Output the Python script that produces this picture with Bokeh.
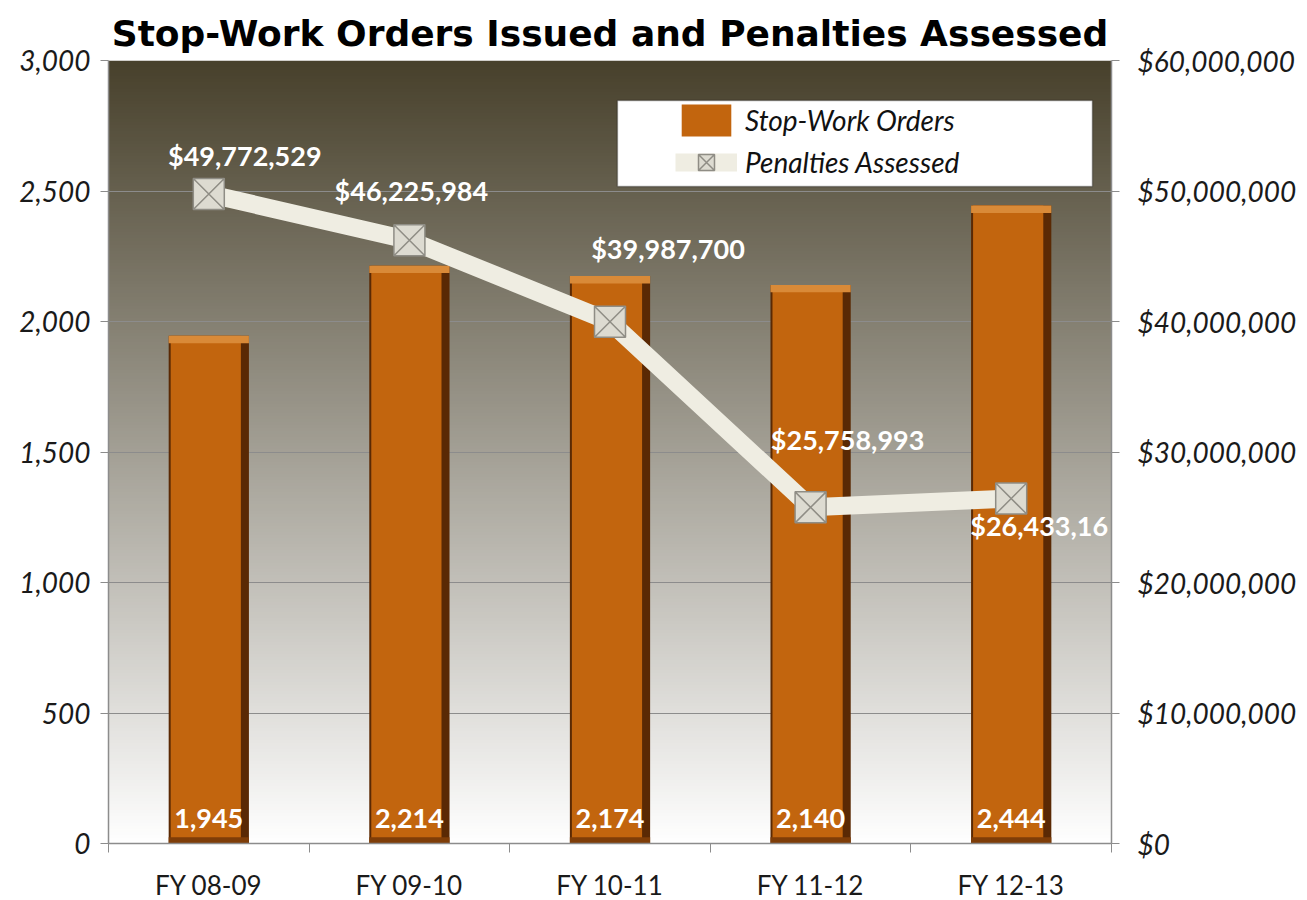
import numpy as np
from bokeh.plotting import figure
from bokeh.models import (Range1d, LinearAxis, FixedTicker, NumeralTickFormatter,
                          ColumnDataSource, Legend, LegendItem, BoxAnnotation)
from bokeh.transform import dodge
from bokeh.core.properties import value
from bokeh.embed import file_html
from bokeh.resources import INLINE

# ---------------- data ----------------
categories = ["FY 08-09", "FY 09-10", "FY 10-11", "FY 11-12", "FY 12-13"]
stop_work_orders = [1945, 2214, 2174, 2140, 2444]
penalties = [49772529, 46225984, 39987700, 25758993, 26433160]
order_labels = ["1,945", "2,214", "2,174", "2,140", "2,444"]
penalty_labels = ["$49,772,529", "$46,225,984", "$39,987,700", "$25,758,993", "$26,433,16"]
left_ticks = [0, 500, 1000, 1500, 2000, 2500, 3000]
right_ticks = [0, 10000000, 20000000, 30000000, 40000000, 50000000, 60000000]
title_text = "Stop-Work Orders Issued and Penalties Assessed"

# label placement (style, screen px)
pen_label_dx = [36, 2, 58, 37, 28]
pen_label_dy = [-38, -50, -73, -68, 27]

ncat = len(categories)
centers = [i + 0.5 for i in range(ncat)]   # category slot centres
bounds = list(range(ncat + 1))              # category slot boundaries

src = ColumnDataSource(dict(
    x=centers,
    cat=categories,
    orders=stop_work_orders,
    cap_bottom=[v - 28 for v in stop_work_orders],
    base_top=[24] * ncat,
    olabel=order_labels,
    pen=penalties,
    plabel=penalty_labels,
    dx=pen_label_dx,
    dy=pen_label_dy,
))

p = figure(x_range=Range1d(0, ncat), y_range=Range1d(left_ticks[0], left_ticks[-1]),
           frame_width=1003, frame_height=783,
           min_border_left=108, min_border_right=190, min_border_top=60, min_border_bottom=52,
           output_backend="svg", toolbar_location=None,
           background_fill_color="white", border_fill_color="white", outline_line_color=None)

p.extra_y_ranges = {"pen": Range1d(right_ticks[0], right_ticks[-1])}

# title
p.title.text = title_text
p.title.align = "center"
p.title.text_font = "DejaVu Sans"
p.title.text_font_style = "bold"
p.title.text_font_size = "36px"
p.title.text_color = "black"
p.title.standoff = 14

# gradient background of plot area
n = 256
frac = np.linspace(0, 1, n)[:, None]
top_c = np.array([72, 65, 44], dtype=float)
bot_c = np.array([255, 255, 255], dtype=float)
img = np.empty((n, 1), dtype=np.uint32)
view = img.view(dtype=np.uint8).reshape((n, 1, 4))
for k in range(3):
    view[:, :, k] = (bot_c[k] + (top_c[k] - bot_c[k]) * frac).astype(np.uint8)
view[:, :, 3] = 255
p.image_rgba(image=[img], x=0, y=left_ticks[0], dw=ncat, dh=left_ticks[-1], level="image")

# grid
p.xgrid.visible = False
p.ygrid.grid_line_color = "#8c8c8c"
p.ygrid.grid_line_width = 1.2

# left axis
ya = p.yaxis[0]
ya.ticker = FixedTicker(ticks=left_ticks)
ya.formatter = NumeralTickFormatter(format="0,0")
ya.major_label_text_font = "Lato"
ya.major_label_text_font_style = "italic"
ya.major_label_text_font_size = "28px"
ya.major_label_text_color = "#1a1a1a"
ya.major_tick_in = 0
ya.major_tick_out = 8
ya.minor_tick_line_color = None
ya.axis_line_color = "#8c8c8c"
ya.major_tick_line_color = "#8c8c8c"
ya.major_label_standoff = 10
ya.axis_line_width = 1.5

# right axis
ra = LinearAxis(y_range_name="pen", ticker=FixedTicker(ticks=right_ticks),
                formatter=NumeralTickFormatter(format="$0,0"))
ra.major_label_text_font = "Lato"
ra.major_label_text_font_style = "italic"
ra.major_label_text_font_size = "28px"
ra.major_label_text_color = "#1a1a1a"
ra.major_tick_in = 0
ra.major_tick_out = 8
ra.minor_tick_line_color = None
ra.axis_line_color = "#8c8c8c"
ra.major_tick_line_color = "#8c8c8c"
ra.major_label_standoff = 18
ra.axis_line_width = 1.5
p.add_layout(ra, "right")

# bottom axis: labels at centres, ticks at boundaries
xa = p.xaxis[0]
xa.ticker = FixedTicker(ticks=centers, minor_ticks=bounds)
xa.major_label_overrides = {c: lab for c, lab in zip(centers, categories)}
xa.major_tick_in = 0
xa.major_tick_out = 0
xa.minor_tick_in = 0
xa.minor_tick_out = 9
xa.minor_tick_line_color = "#8c8c8c"
xa.axis_line_color = "#8c8c8c"
xa.axis_line_width = 1.5
xa.major_label_text_font = "Lato"
xa.major_label_text_font_size = "26px"
xa.major_label_text_color = "#1a1a1a"
xa.major_label_standoff = 16

# bars (bevelled look)
p.vbar(x="x", top="orders", width=0.4, source=src, fill_color="#5a2904", line_color=None)
bar_main = p.vbar(x=dodge("x", -0.015), top="orders", width=0.35, source=src,
                  fill_color="#c2650e", line_color=None)
p.vbar(x="x", top="orders", bottom="cap_bottom", width=0.4, source=src,
       fill_color="#d98a38", line_color=None)
p.vbar(x="x", top="base_top", bottom=0, width=0.4, source=src,
       fill_color="#7e3d08", line_color=None)

# penalties line
pen_line = p.line(x="x", y="pen", y_range_name="pen", source=src,
                  line_width=18, line_color="#efede2")
pen_pts = p.scatter(x="x", y="pen", y_range_name="pen", source=src, marker="square_x",
                    size=31, fill_color="#dddbd1", line_color="#8f8d85", line_width=1.5)

# data labels
p.text(x="x", y=0, text="olabel", source=src, y_offset=-25,
       text_font=value("Lato"), text_font_style="bold", text_font_size="27px",
       text_color="white", text_align="center", text_baseline="middle")
p.text(x="x", y="pen", y_range_name="pen", text="plabel", source=src,
       x_offset="dx", y_offset="dy",
       text_font=value("Lato"), text_font_style="bold", text_font_size="27px",
       text_color="white", text_align="center", text_baseline="middle")

# legend box + legend
box = BoxAnnotation(left=2.537, right=4.905, bottom=2517, top=2847,
                    fill_color="white", fill_alpha=1.0, line_color="black", line_width=1.5)
p.add_layout(box)
legend = Legend(items=[LegendItem(label="Stop-Work Orders", renderers=[bar_main]),
                       LegendItem(label="Penalties Assessed", renderers=[pen_line, pen_pts])],
                location=(567, 661), padding=0, spacing=2, margin=0,
                glyph_width=62, glyph_height=40, label_height=40, label_standoff=8,
                background_fill_alpha=0, border_line_color=None,
                label_text_font="Lato", label_text_font_style="italic",
                label_text_font_size="28px", label_text_color="#111111")
p.add_layout(legend)

open("out.html", "w").write(file_html(p, INLINE))
